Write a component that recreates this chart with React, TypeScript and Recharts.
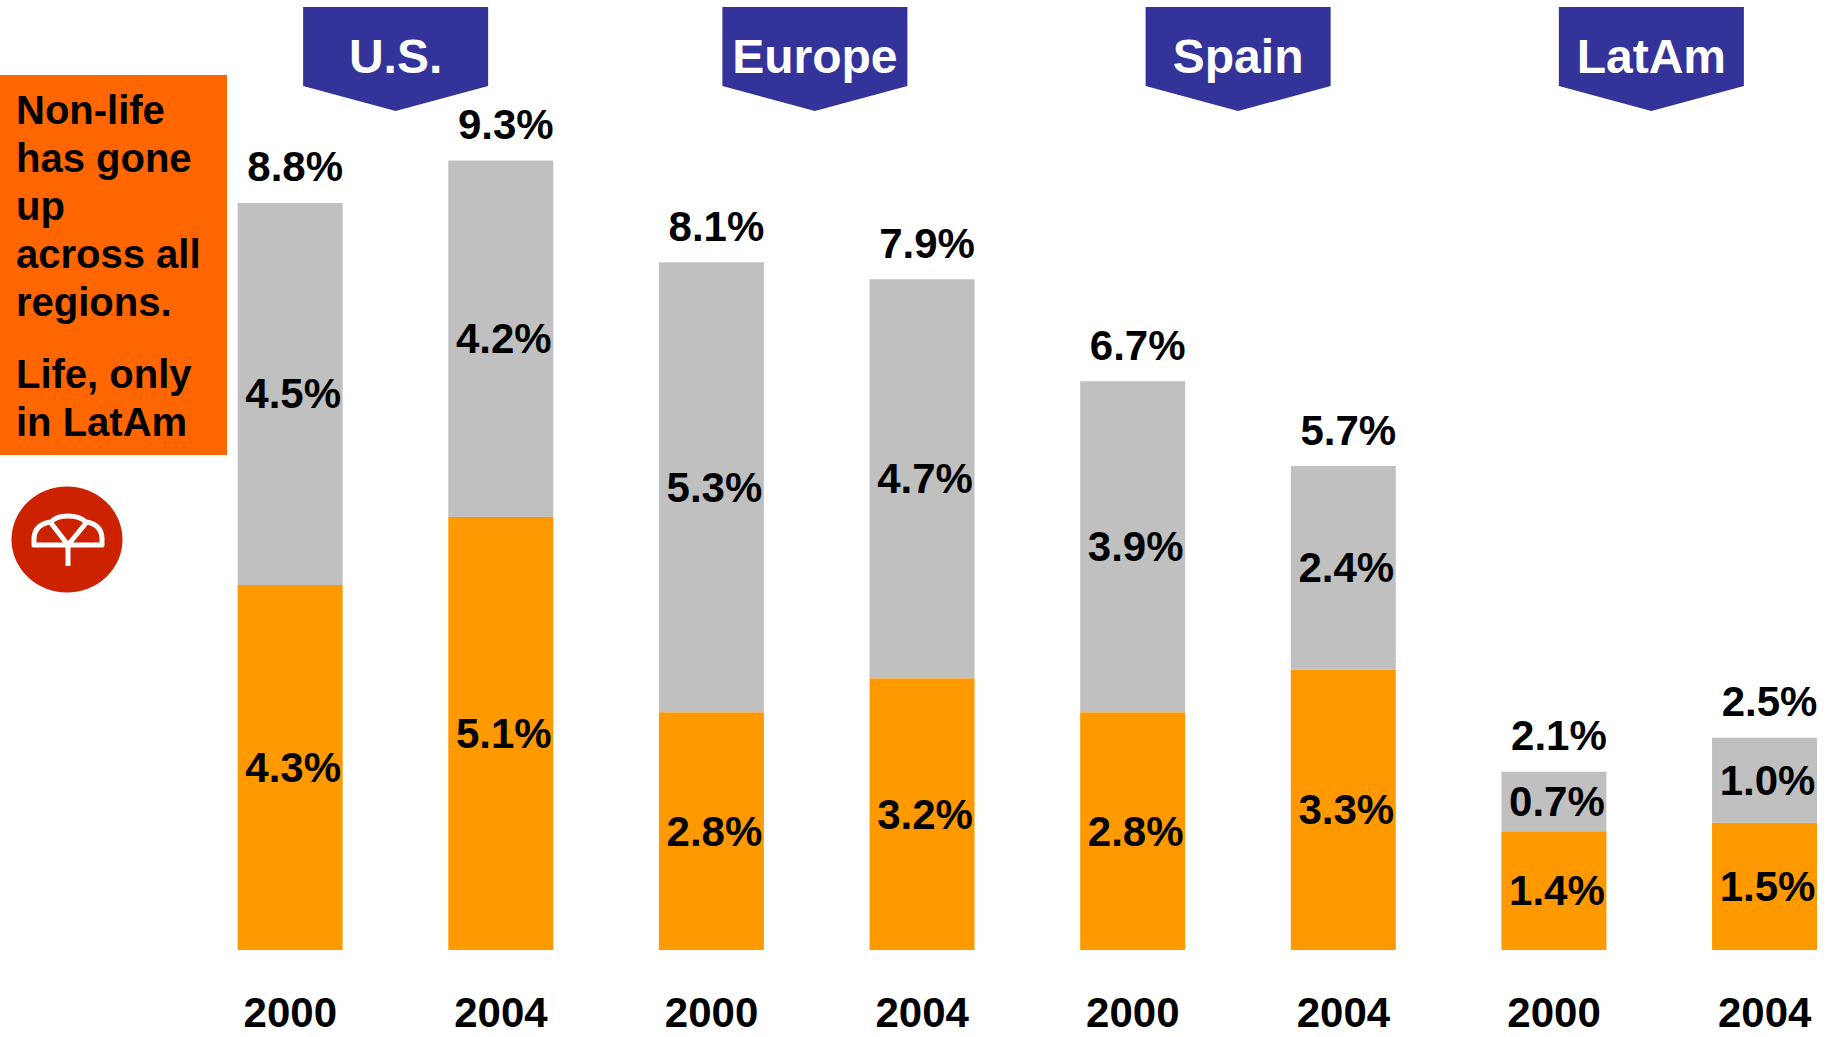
import React from "react";
import { BarChart, Bar, XAxis, YAxis, LabelList } from "recharts";

const CATEGORIES = ["US-2000", "US-2004", "EU-2000", "EU-2004", "ES-2000", "ES-2004", "LA-2000", "LA-2004"];
const YEARS = ["2000", "2004", "2000", "2004", "2000", "2004", "2000", "2004"];
const REGIONS = ["U.S.", "Europe", "Spain", "LatAm"];
const NON_LIFE = [4.3, 5.1, 2.8, 3.2, 2.8, 3.3, 1.4, 1.5];
const LIFE = [4.5, 4.2, 5.3, 4.7, 3.9, 2.4, 0.7, 1.0];
const TOTAL = [8.8, 9.3, 8.1, 7.9, 6.7, 5.7, 2.1, 2.5];

const data = CATEGORIES.map((key, i) => ({
  key,
  year: YEARS[i],
  region: REGIONS[Math.floor(i / 2)],
  nonLife: NON_LIFE[i],
  life: LIFE[i],
  total: TOTAL[i],
}));

const FONT = '"Liberation Sans", Arial, Helvetica, sans-serif';
const ORANGE = "#FF9900";
const GRAY = "#C0C0C0";
const BLUE = "#333399";
// small hand nudges so the banners sit where the slide had them
const BANNER_SHIFT = [0, -2, 0, -8];

const pct = (v: unknown) => `${Number(v).toFixed(1)}%`;

function InnerLabel(props: any) {
  const { x, y, width, height, value } = props;
  return (
    <text
      x={x + width / 2 + 3}
      y={y + height / 2}
      textAnchor="middle"
      dominantBaseline="central"
      fontFamily={FONT}
      fontWeight="bold"
      fontSize={42}
      fill="#000"
    >
      {pct(value)}
    </text>
  );
}

function TotalLabel(props: any) {
  const { x, y, width, value } = props;
  return (
    <text
      x={x + width / 2 + 5}
      y={y - 36}
      textAnchor="middle"
      dominantBaseline="central"
      fontFamily={FONT}
      fontWeight="bold"
      fontSize={42}
      fill="#000"
    >
      {pct(value)}
    </text>
  );
}

function YearTick(props: any) {
  const { x, y, index } = props;
  return (
    <text
      x={x}
      y={y}
      dy={69}
      textAnchor="middle"
      fontFamily={FONT}
      fontWeight="bold"
      fontSize={42}
      fill="#000"
    >
      {YEARS[index]}
    </text>
  );
}

// banner over each pair of bars, centred between the 2000 and 2004 bands
function RegionTick(props: any) {
  const { x, index, payload } = props;
  if (index % 2 !== 0) return <g />;
  const r = index / 2;
  const cx = x + (payload?.offset ?? 105) + BANNER_SHIFT[r];
  const w = 185;
  const top = 7;
  const body = 86;
  const tip = 111;
  const pts = [
    [cx - w / 2, top],
    [cx + w / 2, top],
    [cx + w / 2, body],
    [cx, tip],
    [cx - w / 2, body],
  ]
    .map((p) => p.join(","))
    .join(" ");
  return (
    <g>
      <polygon points={pts} fill={BLUE} />
      <text
        x={cx}
        y={73}
        textAnchor="middle"
        fontFamily={FONT}
        fontWeight="bold"
        fontSize={48}
        fill="#fff"
      >
        {REGIONS[r]}
      </text>
    </g>
  );
}

function Logo() {
  return (
    <svg width={140} height={120} style={{ position: "absolute", left: 0, top: 480 }}>
      <ellipse cx={67} cy={59.5} rx={55.5} ry={53} fill="#CC2200" />
      <g stroke="#fff" strokeWidth={5} fill="none" strokeLinejoin="round">
        <path d="M34,65 L34,58 Q35,44 51,42 Q56,36 68,36 Q80,36 86,42 Q101,44 102,58 L102,65 Z" />
        <path d="M51,43 L68,65 L86,43" />
        <path d="M68,65 L68,86" />
      </g>
    </svg>
  );
}

export default function App() {
  return (
    <div
      style={{
        position: "absolute",
        left: 0,
        top: 0,
        width: 1837,
        height: 1037,
        overflow: "hidden",
        background: "#fff",
        fontFamily: FONT,
      }}
    >
      <BarChart
        width={1880}
        height={1037}
        data={data}
        margin={{ top: 0, right: 10, bottom: 0, left: 185 }}
        barCategoryGap="25%"
      >
        <XAxis
          xAxisId="region"
          orientation="top"
          dataKey="key"
          height={101}
          interval={0}
          axisLine={false}
          tickLine={false}
          tick={<RegionTick />}
        />
        <XAxis
          xAxisId="main"
          dataKey="key"
          height={87}
          interval={0}
          axisLine={false}
          tickLine={false}
          tick={<YearTick />}
        />
        <YAxis hide domain={[0, 10]} />
        <Bar xAxisId="main" dataKey="nonLife" stackId="a" fill={ORANGE} isAnimationActive={false}>
          <LabelList dataKey="nonLife" content={<InnerLabel />} />
        </Bar>
        <Bar xAxisId="main" dataKey="life" stackId="a" fill={GRAY} isAnimationActive={false}>
          <LabelList dataKey="life" content={<InnerLabel />} />
          <LabelList dataKey="total" content={<TotalLabel />} />
        </Bar>
      </BarChart>

      <div
        style={{
          position: "absolute",
          left: 0,
          top: 75,
          width: 227,
          height: 380,
          background: "#FF6600",
          boxSizing: "border-box",
          padding: "11px 0 0 16px",
          fontWeight: "bold",
          fontSize: 40,
          lineHeight: "48px",
          color: "#000",
          whiteSpace: "nowrap",
        }}
      >
        <div>
          Non-life
          <br />
          has gone
          <br />
          up
          <br />
          across all
          <br />
          regions.
        </div>
        <div style={{ marginTop: 24 }}>
          Life, only
          <br />
          in LatAm
        </div>
      </div>
      <Logo />
    </div>
  );
}
